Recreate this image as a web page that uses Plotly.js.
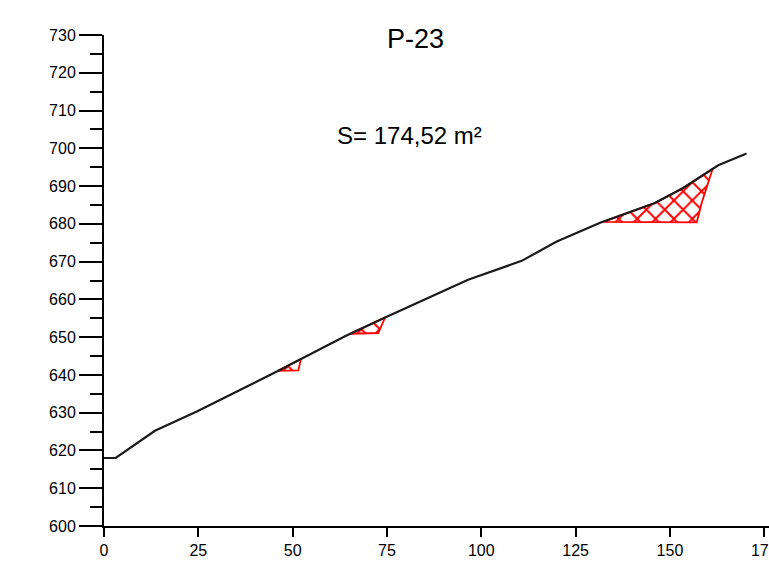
<!DOCTYPE html>
<html>
<head>
<meta charset="utf-8">
<script src="https://cdn.plot.ly/plotly-3.0.1.min.js"></script>
<style>html,body{margin:0;padding:0;background:#fff;}#chart{width:769px;height:562px;}</style>
</head>
<body>
<div id="chart"></div>
<script>
// Terrain profile (distance, elevation)
const terrainX = [0, 3.1, 13.5, 24.6, 46.2, 64.0, 74.5, 96.5, 110.7, 120.0, 131.5, 146.0, 153.5, 162.8, 170.3];
const terrainY = [618.0, 618.0, 625.2, 630.3, 641.1, 650.3, 655.2, 665.2, 670.2, 675.3, 680.3, 685.5, 689.5, 695.5, 698.6];

// Hatched cut areas (closed polygons)
const area1X = [46.2, 52.2, 51.5, 46.2];
const area1Y = [641.1, 644.2, 641.2, 641.1];
const area2X = [65.2, 74.5, 72.7, 65.2];
const area2Y = [650.9, 655.2, 651.1, 650.9];
const area3X = [132.3, 146.0, 153.5, 161.3, 158.4, 157.1, 132.3];
const area3Y = [680.5, 685.5, 689.5, 694.5, 685.5, 680.4, 680.5];

const titleText = 'P-23';
const areaText = 'S= 174,52 m²';

const xTickVals = [0, 25, 50, 75, 100, 125, 150, 175];

function areaTrace(xs, ys) {
  return {
    x: xs, y: ys, type: 'scatter', mode: 'lines', fill: 'toself',
    fillcolor: 'rgba(0,0,0,0)',
    fillpattern: {shape: 'x', fgcolor: '#ff0000', bgcolor: 'rgba(0,0,0,0)', size: 13, solidity: 0.28},
    line: {color: '#ff0000', width: 1.8},
    hoverinfo: 'skip', showlegend: false
  };
}

const data = [
  areaTrace(area1X, area1Y),
  areaTrace(area2X, area2Y),
  areaTrace(area3X, area3Y),
  {x: terrainX, y: terrainY, type: 'scatter', mode: 'lines',
   line: {color: '#1a1a1a', width: 2.2}, showlegend: false}
];

const font = {family: 'Liberation Sans, Arial, sans-serif', size: 16, color: '#000'};

const layout = {
  width: 769, height: 562,
  margin: {l: 104, r: 0, t: 34.7, b: 36.3, pad: 0},
  paper_bgcolor: '#fff', plot_bgcolor: '#fff',
  font: font,
  showlegend: false,
  xaxis: {
    range: [0, 176.25], tickvals: xTickVals, ticktext: xTickVals.map(String),
    showline: true, linecolor: '#000', linewidth: 2,
    ticks: 'outside', ticklen: 9, tickwidth: 2, tickcolor: '#000',
    ticklabeloverflow: 'allow',
    showgrid: false, zeroline: false, tickfont: font, automargin: false
  },
  yaxis: {
    range: [600, 730], dtick: 10, tick0: 600,
    showline: true, linecolor: '#000', linewidth: 2,
    ticks: 'outside', ticklen: 23, tickwidth: 2, tickcolor: '#000',
    minor: {dtick: 5, ticks: 'outside', ticklen: 12, tickwidth: 2, tickcolor: '#000', showgrid: false},
    showgrid: false, zeroline: false, tickfont: font, automargin: false
  },
  annotations: [
    {text: titleText, xref: 'paper', yref: 'paper', x: 0.4677, y: 0.991,
     xanchor: 'center', yanchor: 'middle', showarrow: false,
     font: {family: 'Liberation Sans, Arial, sans-serif', size: 27, color: '#000'}},
    {text: areaText, xref: 'paper', yref: 'paper', x: 0.46, y: 0.7957,
     xanchor: 'center', yanchor: 'middle', showarrow: false,
     font: {family: 'Liberation Sans, Arial, sans-serif', size: 24, color: '#000'}}
  ]
};

Plotly.newPlot('chart', data, layout, {displayModeBar: false, staticPlot: true});
</script>
</body>
</html>
